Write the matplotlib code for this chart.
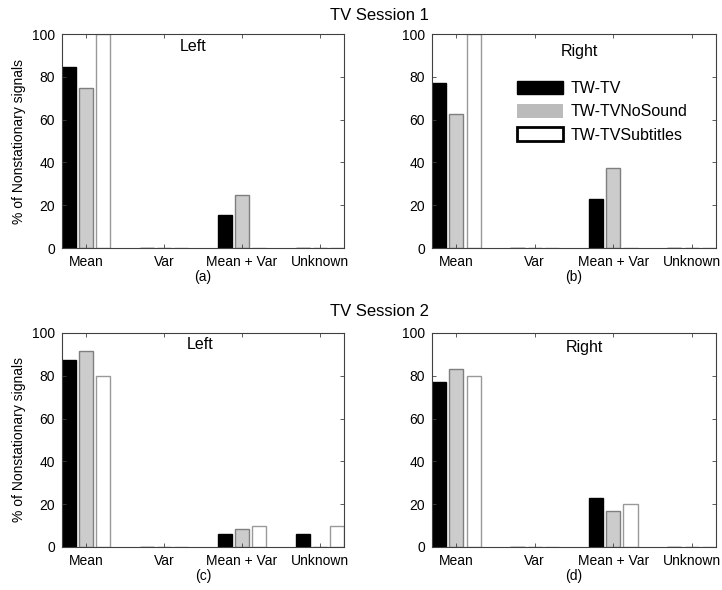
import matplotlib
matplotlib.use("Agg")
import matplotlib.pyplot as plt
import numpy as np
from matplotlib.patches import Patch

plt.rcParams["font.family"] = ["Liberation Sans", "DejaVu Sans"]

categories = ["Mean", "Var", "Mean + Var", "Unknown"]
series_names = ["TW-TV", "TW-TVNoSound", "TW-TVSubtitles"]

# Session 1
s1_left_tv = [84.6, 0, 15.4, 0]
s1_left_nosound = [75.0, 0, 25.0, 0]
s1_left_subtitles = [100.0, 0, 0, 0]
s1_right_tv = [76.9, 0, 23.1, 0]
s1_right_nosound = [62.5, 0, 37.5, 0]
s1_right_subtitles = [100.0, 0, 0, 0]

# Session 2
s2_left_tv = [87.5, 0, 6.25, 6.25]
s2_left_nosound = [91.7, 0, 8.3, 0]
s2_left_subtitles = [80.0, 0, 10.0, 10.0]
s2_right_tv = [76.9, 0, 23.1, 0]
s2_right_nosound = [83.3, 0, 16.7, 0]
s2_right_subtitles = [80.0, 0, 20.0, 0]

panels = [
    ("(a)", "Left", (s1_left_tv, s1_left_nosound, s1_left_subtitles)),
    ("(b)", "Right", (s1_right_tv, s1_right_nosound, s1_right_subtitles)),
    ("(c)", "Left", (s2_left_tv, s2_left_nosound, s2_left_subtitles)),
    ("(d)", "Right", (s2_right_tv, s2_right_nosound, s2_right_subtitles)),
]

W, H = 722, 590
fig = plt.figure(figsize=(W / 100, H / 100), dpi=100)

# axes boxes in pixels: left, top, right, bottom
boxes = [(62, 34, 344, 248), (432, 34, 716, 248), (62, 333, 344, 547), (432, 333, 716, 547)]
side_text_pos = [(0.465, 0.94), (0.52, 0.92), (0.49, 0.944), (0.535, 0.93)]

face = ["black", "#cccccc", "white"]
edge = ["black", "#7f7f7f", "#999999"]
offset = 0.22
width = 0.18
spine_col = "#404040"

x = np.arange(1, len(categories) + 1)
axes = []
for (lab, side, data), (l, t, r, b), (tx, ty) in zip(panels, boxes, side_text_pos):
    ax = fig.add_axes([l / W, 1 - b / H, (r - l) / W, (b - t) / H])
    for i, vals in enumerate(data):
        ax.bar(x + (i - 1) * offset, vals, width=width, color=face[i],
               edgecolor=edge[i], linewidth=1.0)
    ax.set_xlim(0.69, 4.31)
    ax.set_ylim(0, 100)
    ax.set_xticks(x)
    ax.set_xticklabels(categories)
    ax.set_yticks(np.arange(0, 101, 20))
    ax.tick_params(direction="in", length=3, width=0.6, color=spine_col,
                   top=True, right=True, labelsize=10, pad=5)
    for sp in ax.spines.values():
        sp.set_color(spine_col)
        sp.set_linewidth(0.8)
    ax.set_xlabel(lab, fontsize=10, labelpad=1)
    ax.text(tx, ty, side, transform=ax.transAxes, ha="center", va="center", fontsize=11.5)
    axes.append(ax)

axes[0].set_ylabel("% of Nonstationary signals", fontsize=10, labelpad=4)
axes[2].set_ylabel("% of Nonstationary signals", fontsize=10, labelpad=4)

handles = [
    Patch(facecolor="black", edgecolor="black"),
    Patch(facecolor="#bbbbbb", edgecolor="none"),
    Patch(facecolor="white", edgecolor="black", linewidth=2),
]
axes[1].legend(handles, series_names, loc="upper left", bbox_to_anchor=(0.27, 0.82),
               frameon=False, fontsize=11.5, handlelength=2.9, handleheight=0.95,
               handletextpad=0.5, labelspacing=0.5, borderpad=0.0)

fig.text(379 / W, 1 - 15 / H, "TV Session 1", ha="center", va="center", fontsize=12)
fig.text(379 / W, 1 - 312 / H, "TV Session 2", ha="center", va="center", fontsize=12)

fig.savefig("out.png", dpi=100)
